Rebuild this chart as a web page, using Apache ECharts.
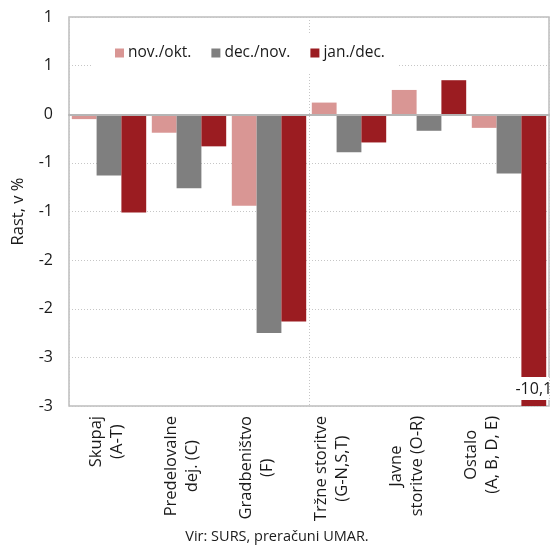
<!DOCTYPE html>
<html>
<head>
<meta charset="utf-8">
<script src="https://cdn.jsdelivr.net/npm/echarts@6/dist/echarts.min.js"></script>
<style>
  html, body { margin: 0; padding: 0; background: #fff; }
  #chart { width: 554px; height: 545px; }
</style>
</head>
<body>
<div id="chart"></div>
<script>
// Growth by activity, month-on-month, in %
const categories = [
  ['Skupaj', '(A-T)'],
  ['Predelovalne', 'dej. (C)'],
  ['Gradbeništvo', '(F)'],
  ['Tržne storitve', '(G-N,S,T)'],
  ['Javne', 'storitve (O-R)'],
  ['Ostalo', '(A, B, D, E)']
];
const seriesNames = ['nov./okt.', 'dec./nov.', 'jan./dec.'];
const novOkt = [-0.05, -0.19, -0.94, 0.12, 0.25, -0.14];
const decNov = [-0.63, -0.76, -2.25, -0.39, -0.17, -0.61];
const janDec = [-1.01, -0.33, -2.13, -0.29, 0.35, -10.1];
const yTicks = { min: -3, max: 1, step: 0.5 };
const sourceNote = 'Vir: SURS, preračuni UMAR.';
const yTitle = 'Rast, v %';

const colors = ['#d99694', '#7f7f7f', '#9b1c21'];
const font = 'Open Sans';
const ink = '#1a1a1a';
const gridLine = { color: '#c6c6c6', type: [1, 2], width: 1 };

// whole-number tick labels, halves rounded away from zero
const roundLabel = v => {
  const r = Math.sign(v) * Math.round(Math.abs(v));
  return r === 0 ? '0' : String(r);
};

const chart = echarts.init(document.getElementById('chart'), null, { renderer: 'canvas' });

const mkSeries = (name, data, i) => ({
  name: name,
  type: 'bar',
  xAxisIndex: 0,
  yAxisIndex: 0,
  data: data.map(v => {
    // values outside the axis range get their value written on the bar
    if (v < yTicks.min || v > yTicks.max) {
      return {
        value: v,
        label: {
          show: true,
          position: 'insideBottom',
          distance: 6,
          formatter: p => String(p.value).replace('.', ','),
          color: ink,
          fontFamily: font,
          fontSize: 16,
          backgroundColor: '#ffffff',
          padding: [4, 1, 3, 1]
        }
      };
    }
    return v;
  }),
  barGap: '0%',
  barCategoryGap: '7%',
  itemStyle: { color: colors[i] },
  clip: true,
  z: 2
});

chart.setOption({
  animation: false,
  textStyle: { fontFamily: font },
  title: {
    text: sourceNote,
    left: 'center',
    top: 529,
    textStyle: { fontFamily: font, fontSize: 14.5, fontWeight: 'normal', color: ink },
    padding: 0,
    itemGap: 0
  },
  legend: {
    data: seriesNames,
    left: 93,
    top: 33,
    padding: [12, 14, 12, 22],
    backgroundColor: '#ffffff',
    itemWidth: 9,
    itemHeight: 9,
    itemGap: 20,
    icon: 'rect',
    textStyle: { fontFamily: font, fontSize: 15.5, color: ink, padding: [0, 0, 0, -1] },
    z: 10
  },
  grid: [
    {
      left: 69, right: 5, top: 17, bottom: 139,
      show: true, borderColor: '#bdbdbd', borderWidth: 1.5, backgroundColor: 'transparent'
    },
    {
      left: 69, width: 450, top: 17, bottom: 139, show: false
    }
  ],
  xAxis: [
    {
      type: 'category',
      gridIndex: 0,
      data: categories.map(c => c.join(' ')),
      boundaryGap: true,
      axisLine: { show: true, onZero: true, lineStyle: { color: '#b5b5b5', width: 2 } },
      axisTick: { show: false },
      axisLabel: { show: false },
      splitLine: { show: true, lineStyle: gridLine },
      z: 3
    },
    {
      type: 'category',
      gridIndex: 1,
      position: 'bottom',
      data: categories.map(c => c.join('\n')),
      axisLine: { show: false, onZero: false },
      axisTick: { show: false },
      splitLine: { show: false },
      axisLabel: {
        rotate: 90,
        margin: 10,
        interval: 0,
        color: ink,
        fontFamily: font,
        fontSize: 16.5,
        lineHeight: 21,
        formatter: v => v.split('\n').map(s => '{c|' + s + '}').join('\n'),
        rich: { c: { align: 'center', fontFamily: font, fontSize: 16.5, lineHeight: 21, color: ink } }
      }
    }
  ],
  yAxis: [
    {
      type: 'value',
      gridIndex: 0,
      min: yTicks.min,
      max: yTicks.max,
      interval: yTicks.step,
      name: yTitle,
      nameLocation: 'middle',
      nameGap: 42,
      nameRotate: 90,
      nameTextStyle: { fontFamily: font, fontSize: 16.5, color: ink },
      axisLine: { show: false },
      axisTick: { show: false },
      axisLabel: { margin: 16, color: ink, fontFamily: font, fontSize: 16, formatter: roundLabel },
      splitLine: { show: true, lineStyle: gridLine }
    },
    {
      type: 'value',
      gridIndex: 1,
      min: yTicks.min,
      max: yTicks.max,
      show: false,
      splitLine: { show: false }
    }
  ],
  series: [
    mkSeries(seriesNames[0], novOkt, 0),
    mkSeries(seriesNames[1], decNov, 1),
    mkSeries(seriesNames[2], janDec, 2)
  ]
});
</script>
</body>
</html>
